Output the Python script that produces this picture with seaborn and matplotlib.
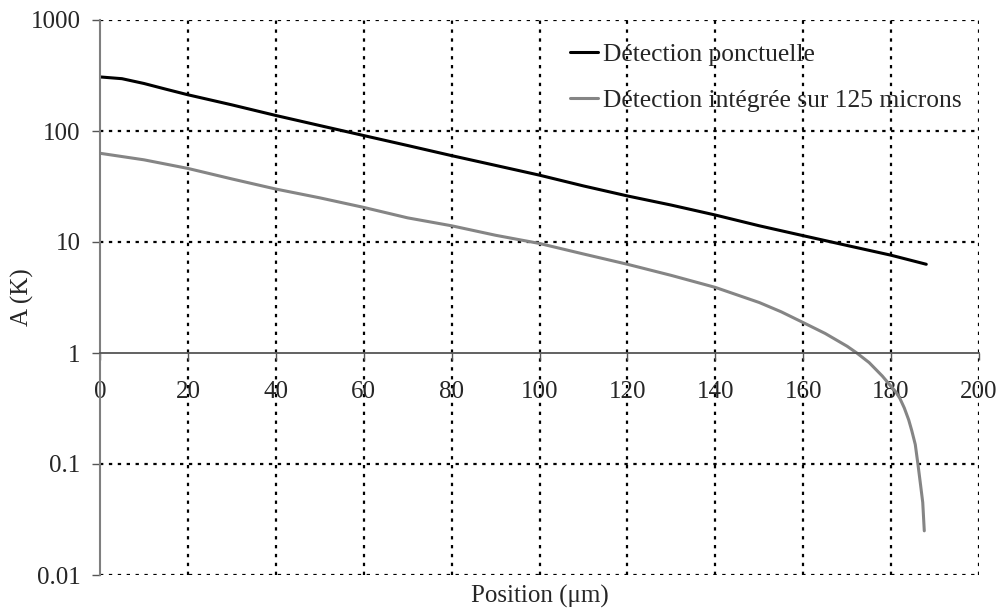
import matplotlib
matplotlib.use("Agg")
import matplotlib.pyplot as plt
import seaborn as sns
import pandas as pd

# Valeurs
pos_ponct = [0, 5, 10, 15, 20, 30, 40, 50, 60, 70, 80, 90, 100, 110, 120,
             130, 140, 150, 160, 170, 180, 188]
amp_ponct = [307, 296, 268, 238, 212, 172, 138, 112, 91, 74, 60, 49, 40, 32,
             26, 21.5, 17.5, 14, 11.4, 9.3, 7.6, 6.3]

pos_integ = [0, 10, 20, 30, 40, 50, 60, 70, 80, 90, 100, 110, 120, 130, 140,
             150, 155, 160, 165, 170, 172.2, 175, 178, 180, 181, 182, 183,
             184, 184.7, 185.5, 186.1, 186.7, 187.2, 187.55]
amp_integ = [63, 55, 46, 37, 30, 25, 20.5, 16.5, 14, 11.5, 9.7, 7.8, 6.3, 5,
             3.9, 2.85, 2.35, 1.88, 1.5, 1.15, 1.0, 0.82, 0.62, 0.5, 0.45,
             0.39, 0.32, 0.25, 0.2, 0.15, 0.1, 0.065, 0.045, 0.025]

lab_ponct = "Détection ponctuelle"
lab_integ = "Détection intégrée sur 125 microns"

sns.set_theme(style="white")
plt.rcParams['font.family'] = ['Liberation Serif', 'DejaVu Serif']

fig = plt.figure(figsize=(10.01, 6.11), dpi=100)
ax = fig.add_axes([100 / 1001, 1 - 575 / 611, 879 / 1001, 555 / 611])

df1 = pd.DataFrame({'x': pos_ponct, 'y': amp_ponct})
df2 = pd.DataFrame({'x': pos_integ, 'y': amp_integ})
sns.lineplot(data=df1, x='x', y='y', ax=ax, color='black', lw=2.2,
             label=lab_ponct, sort=False)
sns.lineplot(data=df2, x='x', y='y', ax=ax, color='#858585', lw=2.2,
             label=lab_integ, sort=False)

ax.set_yscale('log')
ax.set_xlim(0, 200)
ax.set_ylim(0.01, 1000)
ax.set_xticks(range(0, 201, 20))
ax.set_yticks([0.01, 0.1, 1, 10, 100, 1000])
ax.set_yticklabels(['0.01', '0.1', '1', '10', '100', '1000'])
ax.minorticks_off()

# grille pointillée
for gx in range(20, 201, 20):
    ax.axvline(gx, color='black', ls=(0, (1.5, 2.5)), lw=1.6, zorder=0)
for gy in [0.01, 0.1, 10, 100, 1000]:
    ax.axhline(gy, color='black', ls=(0, (1.5, 2.5)), lw=1.6, zorder=0)

for s in ['top', 'right']:
    ax.spines[s].set_visible(False)
ax.spines['bottom'].set_position(('data', 1))
ax.spines['bottom'].set_color('#555555')
ax.spines['bottom'].set_linewidth(1.3)
ax.spines['left'].set_color('#7f7f7f')
ax.spines['left'].set_linewidth(1.5)

ax.tick_params(axis='y', direction='out', length=6, width=1, color='#555555',
               pad=8, labelsize=18, left=True)
ax.tick_params(axis='x', direction='out', length=5, width=1, color='#555555',
               pad=15, labelsize=18, bottom=True)

ax.set_xlabel('Position (μm)', fontsize=18)
ax.xaxis.set_label_coords(440 / 879, (575 - 596) / 555)
ax.xaxis.label.set_va('center')
ax.set_ylabel('A (K)', fontsize=18)
ax.yaxis.set_label_coords(-78 / 879, 0.5)
ax.yaxis.label.set_va('center')

ax.legend(loc='upper left', bbox_to_anchor=(0.508, 1.0), frameon=False,
          fontsize=18.4, handlelength=1.1, handletextpad=0.2, labelspacing=0.9)

fig.savefig('out.png', dpi=100, facecolor='white')
